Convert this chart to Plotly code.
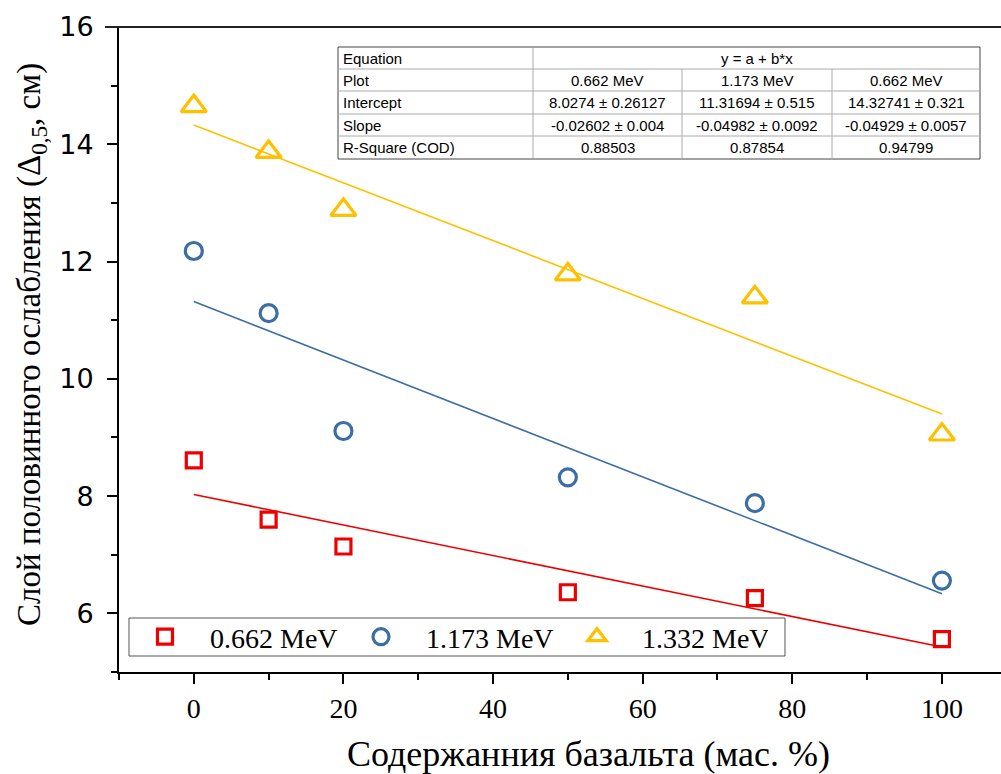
import plotly.graph_objects as go

# ---------------- data ----------------
x_content = [0, 10, 20, 50, 75, 100]
y_662 = [8.61, 7.60, 7.14, 6.36, 6.26, 5.56]
y_1173 = [12.18, 11.12, 9.11, 8.32, 7.88, 6.56]
y_1332 = [14.65, 13.87, 12.88, 11.78, 11.39, 9.05]
series_names = ["0.662 MeV", "1.173 MeV", "1.332 MeV"]
intercepts = [8.0274, 11.31694, 14.32741]
slopes = [-0.02602, -0.04982, -0.04929]
fit_x = [0, 100]

table_header = ["Equation", "y = a + b*x"]
table_row_labels = ["Plot", "Intercept", "Slope", "R-Square (COD)"]
table_plot = ["0.662 MeV", "1.173 MeV", "0.662 MeV"]
table_intercept = ["8.0274 ± 0.26127", "11.31694 ± 0.515", "14.32741 ± 0.321"]
table_slope = ["-0.02602 ± 0.004", "-0.04982 ± 0.0092", "-0.04929 ± 0.0057"]
table_r2 = ["0.88503", "0.87854", "0.94799"]

x_title = "Содержанния базальта (мас. %)"
y_title = "Слой половинного ослабления (Δ<sub>0,5</sub>, см)"

# ---------------- styles ----------------
colors = ["#EE0000", "#3A6EA5", "#FFC000"]
symbols = ["square-open", "circle-open", "triangle-up-open"]
msizes = [15, 17, 22]
SERIF = "Liberation Serif"
SANS = "Liberation Sans"

W, H = 1001, 774
L, R, T, B = 119, 1001, 27, 672


def pxx(px):
    return (px - L) / (R - L)


def pxy(py):
    return (B - py) / (B - T)


fig = go.Figure()
series = [y_662, y_1173, y_1332]
for i, ys in enumerate(series):
    fig.add_trace(go.Scatter(
        x=x_content, y=ys, mode="markers", name=series_names[i],
        marker=dict(symbol=symbols[i], size=msizes[i], color=colors[i],
                    line=dict(width=3.2, color=colors[i])),
    ))
for i in range(3):
    fy = [intercepts[i] + slopes[i] * v for v in fit_x]
    fig.add_trace(go.Scatter(
        x=fit_x, y=fy, mode="lines", showlegend=False,
        line=dict(color=colors[i], width=1.6),
    ))

shapes = []
annotations = []

# top frame line
shapes.append(dict(type="line", xref="paper", yref="paper", x0=pxx(105), x1=1,
                   y0=1, y1=1, line=dict(color="#222", width=2)))

# legend box
shapes.append(dict(type="rect", xref="paper", yref="paper", x0=pxx(129), x1=pxx(785),
                   y0=pxy(656), y1=pxy(618), line=dict(color="#555", width=1),
                   fillcolor="white", layer="below"))

# ---------------- stats table ----------------
tx = [338, 533, 682, 832, 980]
ty = [47, 69, 91, 114, 136, 159]
shapes.append(dict(type="rect", xref="paper", yref="paper", x0=pxx(tx[0]), x1=pxx(tx[-1]),
                   y0=pxy(ty[-1]), y1=pxy(ty[0]), line=dict(color="#444", width=1),
                   fillcolor="white"))
for yy in ty[1:-1]:
    shapes.append(dict(type="line", xref="paper", yref="paper", x0=pxx(tx[0]), x1=pxx(tx[-1]),
                       y0=pxy(yy), y1=pxy(yy), line=dict(color="#aaa", width=1)))
shapes.append(dict(type="line", xref="paper", yref="paper", x0=pxx(tx[1]), x1=pxx(tx[1]),
                   y0=pxy(ty[-1]), y1=pxy(ty[0]), line=dict(color="#aaa", width=1)))
for xx in tx[2:4]:
    shapes.append(dict(type="line", xref="paper", yref="paper", x0=pxx(xx), x1=pxx(xx),
                       y0=pxy(ty[-1]), y1=pxy(ty[1]), line=dict(color="#aaa", width=1)))

tfont = dict(family=SANS, size=15, color="black")
rows = [table_plot, table_intercept, table_slope, table_r2]
annotations.append(dict(text=table_header[0], xref="paper", yref="paper",
                        x=pxx(tx[0] + 3), y=pxy((ty[0] + ty[1]) / 2), xanchor="left",
                        yanchor="middle", showarrow=False, font=tfont))
annotations.append(dict(text=table_header[1], xref="paper", yref="paper",
                        x=pxx((tx[1] + tx[4]) / 2), y=pxy((ty[0] + ty[1]) / 2), xanchor="center",
                        yanchor="middle", showarrow=False, font=tfont))
for r, lab in enumerate(table_row_labels):
    yc = pxy((ty[r + 1] + ty[r + 2]) / 2)
    annotations.append(dict(text=lab, xref="paper", yref="paper", x=pxx(tx[0] + 3), y=yc,
                            xanchor="left", yanchor="middle", showarrow=False, font=tfont))
    for c in range(3):
        annotations.append(dict(text=rows[r][c], xref="paper", yref="paper",
                                x=pxx((tx[c + 1] + tx[c + 2]) / 2), y=yc,
                                xanchor="center", yanchor="middle", showarrow=False, font=tfont))

# axis titles
annotations.append(dict(text=x_title, xref="paper", yref="paper", x=pxx(588), y=pxy(754),
                        xanchor="center", yanchor="middle", showarrow=False,
                        font=dict(family=SERIF, size=36, color="black")))
annotations.append(dict(text=y_title, xref="paper", yref="paper", x=pxx(31), y=pxy(345),
                        xanchor="center", yanchor="middle", showarrow=False, textangle=-90,
                        font=dict(family=SERIF, size=33, color="black")))

fig.update_layout(
    width=W, height=H,
    margin=dict(l=L, r=W - R, t=T, b=H - B, pad=0),
    paper_bgcolor="white", plot_bgcolor="white",
    shapes=shapes, annotations=annotations,
    showlegend=True,
    legend=dict(orientation="h", x=pxx(120), y=pxy(637), xanchor="left", yanchor="middle",
                bgcolor="rgba(0,0,0,0)", borderwidth=0,
                font=dict(family=SERIF, size=28, color="black"),
                entrywidth=121, itemwidth=80),
    xaxis=dict(range=[-10, 107.9], showline=True, linecolor="black", linewidth=2,
               ticks="outside", ticklen=10, tickwidth=2, tickcolor="black",
               tick0=0, dtick=20, showgrid=False, zeroline=False,
               tickfont=dict(family=SERIF, size=28, color="black"),
               minor=dict(ticks="outside", ticklen=6, tickwidth=2, tickcolor="black",
                          tick0=-10, dtick=20, showgrid=False)),
    yaxis=dict(range=[5, 16], showline=True, linecolor="black", linewidth=2,
               ticks="outside", ticklen=10, tickwidth=2, tickcolor="black",
               tick0=0, dtick=2, showgrid=False, zeroline=False,
               ticklabelstandoff=8,
               tickfont=dict(family="DejaVu Sans", size=27, color="black"),
               minor=dict(ticks="outside", ticklen=6, tickwidth=2, tickcolor="black",
                          tick0=1, dtick=2, showgrid=False)),
)

fig.write_html("out.html")
